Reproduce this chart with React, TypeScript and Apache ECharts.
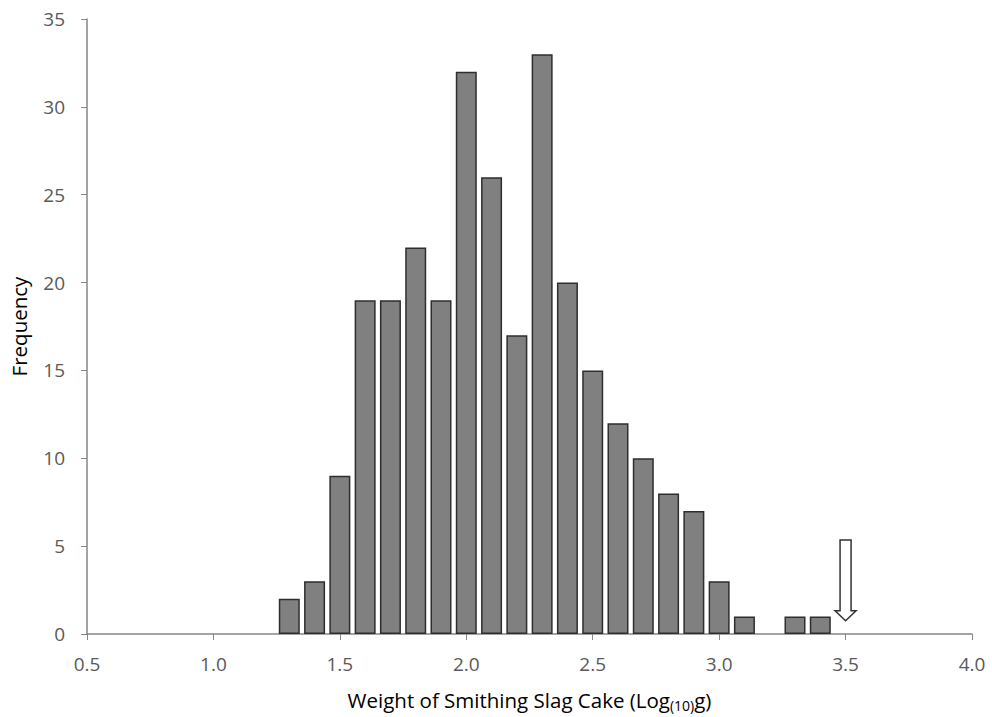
import React, { useEffect, useRef } from "react";
import * as echarts from "echarts";

const binCenters = [1.3, 1.4, 1.5, 1.6, 1.7, 1.8, 1.9, 2.0, 2.1, 2.2, 2.3, 2.4, 2.5, 2.6, 2.7, 2.8, 2.9, 3.0, 3.1, 3.3, 3.4];
const frequencies = [2, 3, 9, 19, 19, 22, 19, 32, 26, 17, 33, 20, 15, 12, 10, 8, 7, 3, 1, 1, 1];
// arrow: x position, top value, tip value
const arrowMark = [3.5, 5.35, 0.75];

const FONT = "Open Sans";

export default function App() {
  const ref = useRef<HTMLDivElement>(null);
  useEffect(() => {
    if (!ref.current) return;
    const chart = echarts.init(ref.current, undefined, { renderer: "svg" });
    chart.setOption({
      animation: false,
      backgroundColor: "#ffffff",
      grid: { left: 86.5, right: 20, top: 19, bottom: 83 },
      xAxis: {
        type: "value",
        min: 0.5,
        max: 4.0,
        interval: 0.5,
        name: "Weight of Smithing Slag Cake (Log{sub|(10)}g)",
        nameLocation: "middle",
        nameGap: 53,
        nameTextStyle: {
          color: "#000",
          fontSize: 20.5,
          fontFamily: FONT,
          rich: {
            sub: { fontSize: 14, fontFamily: FONT, color: "#000", padding: [11, 0, 0, 0] },
          },
        },
        axisLine: { lineStyle: { color: "#868686", width: 1.5 } },
        axisTick: { show: true, length: 6, lineStyle: { color: "#868686" } },
        axisLabel: {
          color: "#595959",
          fontSize: 19,
          fontFamily: FONT,
          margin: 20,
          formatter: (v: number) => v.toFixed(1),
        },
        splitLine: { show: false },
      },
      yAxis: {
        type: "value",
        min: 0,
        max: 35,
        interval: 5,
        name: "Frequency",
        nameLocation: "middle",
        nameGap: 58,
        nameTextStyle: { color: "#000", fontSize: 20.5, fontFamily: FONT },
        axisLine: { show: true, lineStyle: { color: "#868686", width: 1.5 } },
        axisTick: { show: true, length: 6, lineStyle: { color: "#868686" } },
        axisLabel: { color: "#595959", fontSize: 19, fontFamily: FONT, margin: 22 },
        splitLine: { show: false },
      },
      series: [
        {
          type: "bar",
          barWidth: 21,
          data: binCenters.map((x, i) => [x, frequencies[i]]),
          itemStyle: { color: "#808080", borderColor: "#2e2e2e", borderWidth: 1.5 },
        },
        {
          type: "custom",
          data: [arrowMark],
          renderItem: (params: any, api: any) => {
            const top = api.coord([api.value(0), api.value(1)]);
            const tip = api.coord([api.value(0), api.value(2)]);
            const cx = top[0];
            const shaftHalf = 5.5;
            const headHalf = 10.5;
            const headH = 10;
            const neckY = tip[1] - headH;
            return {
              type: "polygon",
              shape: {
                points: [
                  [cx - shaftHalf, top[1]],
                  [cx + shaftHalf, top[1]],
                  [cx + shaftHalf, neckY],
                  [cx + headHalf, neckY],
                  [cx, tip[1]],
                  [cx - headHalf, neckY],
                  [cx - shaftHalf, neckY],
                ],
              },
              style: { fill: "#ffffff", stroke: "#333333", lineWidth: 1.5 },
            };
          },
        },
      ],
    });
    return () => chart.dispose();
  }, []);
  return (
    <div
      ref={ref}
      style={{ position: "absolute", left: 0, top: 0, width: 992, height: 717 }}
    />
  );
}
